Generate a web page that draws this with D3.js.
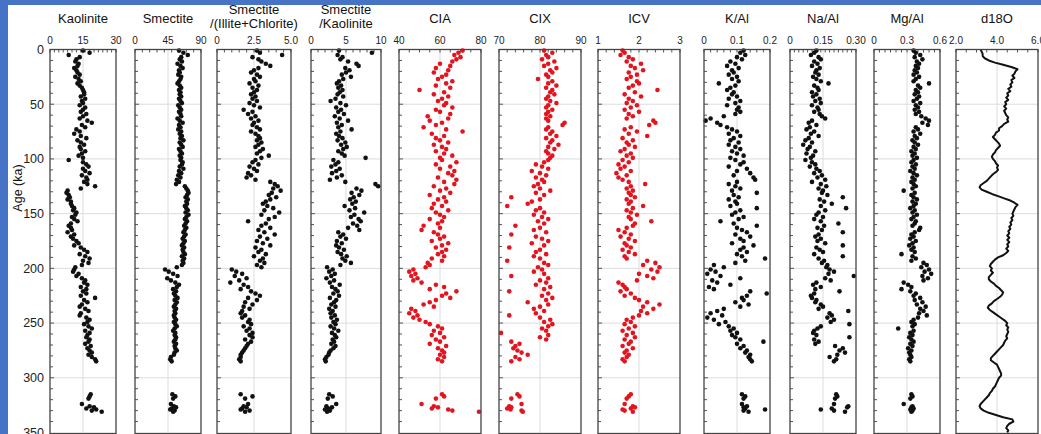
<!DOCTYPE html>
<html>
<head>
<meta charset="utf-8">
<script src="https://cdn.jsdelivr.net/npm/d3@7"></script>
<style>
  body { margin: 0; background: #fff; }
  svg { display: block; font-family: "Liberation Sans", Arial, sans-serif; }
</style>
</head>
<body>
<svg id="chart"></svg>
<script>
// sample ages (ka), shared by all scatter columns
var ages = [
  1,3,5,7,9,11,13,15,17,19,
  21,23,25,27,29,31,33,35,37,39,
  41,43,45,47,49,51,53,55,57,59,
  61,63,65,67,69,71,73,75,77,79,
  81,83,85,87,89,91,93,95,97,99,
  101,103,105,107,109,111,113,115,117,119,
  121,123,125,127,129,131,133,135,137,139,
  141,143,145,147,149,151,153,155,157,159,
  161,163,165,167,169,171,173,175,177,179,
  181,183,185,187,189,191,193,195,197,199,
  201,203,205,207,209,211,213,215,217,219,
  221,223,225,227,229,231,233,235,237,239,
  241,243,245,247,249,251,253,255,257,259,
  261,263,265,267,269,271,273,275,277,279,
  281,283,285,
  315,317,319,324,326,327,328,329,330,331
];

var kaolinite = [
  15,18,8.5,13.5,12,11.5,13,12.5,11,12,
  12.5,13.5,11.5,13,14,12.5,13.5,14.5,15,15.5,
  15.5,14,16,14.5,15,13.5,16,15,14,16.5,
  15,13.5,17,19,14.5,16,12,13.5,11,14,
  16.5,12.5,14,15.5,13.5,14,16,14.5,13,15,
  8.5,15,16.5,17.5,15,16,18,14.5,16.5,17,
  15.5,17,20.5,14,8,7.5,8.5,9,8,9.5,
  9.5,10,11,10.5,12,11.5,10,11,12.5,9.5,
  8.5,9.5,10,8,11,9.5,10.5,12,13,11,
  14,15.5,17,13.5,16,18,15,17.5,14.5,11.5,
  11,10.5,13,12,14.5,16,15.5,17,14,16.5,
  15,16.5,14,20.5,15.5,17,14.5,13.5,16,17.5,
  14,13.5,16.5,18,17,15.5,17.5,19,16,18,
  17,16.5,18,17.5,16,18.5,17,18,19,17.5,
  19,20.5,21,
  18.5,18,17.5,14.5,18,20,16.5,21,19,23.5
];

var smectite = [
  60,66,72,63,61,64,58,62,65,60,
  61,59,63,62,60,58,61,63,60,62,
  61,63,60,62,64,59,61,63,60,62,
  63,58,61,65,60,62,59,63,61,64,
  62,66,61,63,65,60,62,64,61,63,
  62,65,64,61,66,60,63,59,62,57,
  60,56,68,70,72,73,71,69,72,70,
  71,68,70,72,69,73,70,68,71,69,
  67,70,68,66,69,67,65,68,66,64,
  67,65,66,68,64,67,65,66,64,57,
  41,46,52,58,44,49,55,60,57,52,
  56,53,55,58,54,57,55,53,56,54,
  55,53,54,56,53,55,57,54,52,55,
  54,56,55,53,56,54,55,57,54,53,
  49,48,50,
  51,55,52,49,53,56,50,48,54,52
];

var smecIllChl = [
  2.7,2.9,4.4,2.4,2.8,3.0,3.3,3.6,2.8,2.5,
  2.3,2.7,2.9,2.5,2.6,2.2,2.8,2.4,2.7,2.5,
  2.3,2.6,2.4,2.7,2.2,2.5,2.9,1.8,2.4,2.1,
  2.6,2.3,2.8,2.5,2.4,2.7,2.9,2.3,2.6,2.8,
  2.9,2.7,3.0,2.8,2.6,3.1,2.9,2.7,3.5,3.0,
  2.6,2.4,2.8,2.2,2.5,2.7,2.1,2.3,2.0,2.6,
  3.6,3.9,4.1,3.8,4.3,3.7,3.5,4.0,3.6,3.3,
  3.1,3.4,3.8,3.2,4.2,3.0,3.9,3.5,2.1,3.3,
  3.0,3.6,2.8,3.2,3.9,2.9,3.4,2.7,3.1,3.6,
  2.6,3.0,2.8,3.3,2.5,3.1,2.9,3.2,2.7,3.0,
  1.0,1.3,1.7,1.2,2.0,1.5,0.9,1.8,2.1,1.6,
  2.3,2.6,2.9,2.1,2.7,1.9,2.4,1.8,2.2,1.7,
  1.6,1.9,1.7,2.2,2.1,2.3,1.8,2.2,2.0,2.4,
  2.2,2.4,1.9,2.3,2.1,2.0,1.9,1.8,1.7,1.6,
  1.6,1.5,1.6,
  1.6,2.4,1.9,2.1,1.8,2.0,1.7,1.6,2.2,1.9
];

var smecKaol = [
  4.0,8.7,3.8,4.5,4.2,5.3,6.5,6.8,4.9,5.5,
  5.0,4.4,5.7,4.6,4.0,3.7,4.3,3.9,4.5,4.1,
  3.8,4.6,3.5,2.8,4.2,5.0,3.6,4.3,3.9,4.7,
  3.4,4.1,5.3,3.7,4.4,3.9,5.8,4.2,3.6,4.0,
  4.5,3.8,4.9,4.3,5.1,4.6,3.9,4.4,4.8,7.8,
  3.2,3.9,3.5,2.9,4.1,3.6,3.0,4.4,3.7,2.7,
  4.9,9.2,9.6,6.5,7.2,5.8,6.9,6.1,5.6,6.4,
  5.9,4.8,6.3,5.5,7.6,6.2,5.7,6.8,7.1,6.0,
  6.6,5.3,6.9,3.9,4.6,4.2,5.0,3.7,4.4,3.6,
  4.0,4.7,3.8,4.3,5.1,4.5,4.9,5.7,4.2,2.3,
  3.1,2.6,3.4,2.9,2.2,3.3,2.7,4.1,3.0,3.5,
  3.8,3.2,4.0,2.7,3.6,3.3,2.9,3.5,2.6,3.1,
  2.8,3.4,2.9,3.7,3.2,3.5,2.8,3.3,3.9,3.0,
  3.4,3.6,3.1,3.3,2.9,3.5,3.2,2.8,2.6,2.5,
  2.2,2.0,2.1,
  2.6,3.1,2.4,3.6,2.2,3.0,2.5,2.0,2.7,2.3
];

var cia = [
  71,69,67,70,68,66,60,65,58,64,
  57,63,61,59,66,63,58,65,50,62,
  57,64,61,59,63,62,66,58,60,65,
  54,64,55,61,58,52,63,71,56,62,
  58,60,64,57,61,63,58,62,66,60,
  61,68,58,65,60,67,64,66,59,68,
  62,67,57,63,60,65,55,62,59,63,
  57,61,56,64,58,60,62,55,61,59,
  52,60,51,57,59,62,60,56,64,61,
  58,63,61,59,62,56,61,54,55,53,
  47,45,48,46,49,47,51,58,62,55,
  68,63,61,65,58,55,52,57,46,48,
  45,49,47,50,53,55,59,61,57,60,
  56,62,58,60,55,63,59,61,62,60,
  62,59,61,
  61,62,58,51,57,59,56,64,66,79
];

var cix = [
  81,83,81.5,82,80.5,83.5,82,81,84,82.5,
  83,81.5,82,79.5,83,82,84,81.5,83,82.5,
  83.5,82,81.5,82.5,84,82,81.5,83,82,81.5,
  82.5,81.5,82,86,85.5,82,81.5,83,82.5,84,
  81.5,83,82.5,84.5,82,83.5,81.5,82,83,82.5,
  82,81,79,80.5,82,78,80,81.5,79,80.5,
  81,79.5,78.5,80,82.5,79,81,73,80,78,
  77,72,80,79,81,78.5,80.5,82,79.5,81,
  74,80,78.5,81.5,73,79,80.5,82,78,81,
  72.5,80,79,81.5,78.5,80,72,81,82,79.5,
  80.5,78.5,81,73,82,80,81.5,79,82.5,81,
  72.5,82,80.5,83,81.5,77,82,80,78.5,81,
  79,72.5,80,82.5,81,83,82,80.5,81.5,70.5,
  82,80,81.5,73,75,74,73.5,74.5,75.5,77,
  74,75,73,
  74.5,75,73,75.5,72.5,73,72,72.8,75.5,75.8
];

var icv = [
  1.6,1.65,1.55,1.75,1.85,1.7,2.05,1.8,1.9,2.1,
  1.75,1.95,1.8,1.7,1.95,2.0,1.85,1.75,2.45,1.9,
  1.65,2.05,1.75,1.85,1.7,1.95,1.8,1.65,2.0,1.75,
  1.85,1.7,2.35,2.4,2.25,1.8,1.65,1.95,1.75,2.2,
  1.6,1.85,1.7,1.75,1.9,1.65,1.55,1.8,1.7,1.85,
  1.6,1.75,1.5,1.65,1.55,1.8,1.45,1.7,1.5,1.6,
  1.75,2.15,1.8,1.7,1.85,1.75,1.8,1.9,1.7,1.8,
  1.75,2.1,1.85,1.7,1.8,1.95,1.75,1.8,2.3,1.9,
  1.85,1.7,1.5,1.65,1.8,1.55,1.75,1.9,1.65,1.7,
  1.8,1.6,1.75,1.9,1.65,1.7,2.2,2.4,2.1,2.5,
  2.3,2.45,2.0,2.2,2.35,1.95,1.5,1.6,1.65,1.7,
  1.55,1.8,1.65,1.9,2.0,2.2,2.5,2.1,2.35,2.05,
  2.2,2.0,1.85,1.7,1.8,1.65,1.9,1.75,1.6,1.85,
  1.7,1.9,1.65,1.8,1.75,1.6,1.85,1.7,1.65,1.75,
  1.7,1.6,1.65,
  1.8,1.75,1.7,1.65,1.85,1.9,1.8,1.6,1.65,1.85
];

var kAl = [
  0.12,0.11,0.125,0.10,0.115,0.08,0.095,0.07,0.105,0.085,
  0.09,0.075,0.10,0.085,0.105,0.045,0.095,0.08,0.07,0.09,
  0.085,0.10,0.075,0.11,0.095,0.07,0.105,0.10,0.11,0.095,
  0.06,0.02,0.005,0.04,0.05,0.07,0.085,0.10,0.075,0.11,
  0.09,0.08,0.105,0.075,0.095,0.11,0.085,0.10,0.12,0.08,
  0.095,0.12,0.11,0.075,0.13,0.10,0.14,0.09,0.15,0.155,
  0.10,0.075,0.095,0.11,0.085,0.16,0.09,0.105,0.075,0.095,
  0.10,0.08,0.16,0.11,0.095,0.085,0.12,0.105,0.05,0.09,
  0.16,0.10,0.115,0.13,0.095,0.14,0.11,0.12,0.085,0.15,
  0.12,0.11,0.13,0.10,0.115,0.185,0.125,0.095,0.03,0.06,
  0.02,0.035,0.01,0.05,0.11,0.025,0.04,0.08,0.015,0.03,
  0.14,0.19,0.13,0.115,0.12,0.095,0.135,0.11,0.06,0.04,
  0.02,0.055,0.01,0.03,0.065,0.045,0.075,0.09,0.08,0.10,
  0.085,0.095,0.11,0.18,0.10,0.12,0.11,0.13,0.125,0.14,
  0.135,0.14,0.145,
  0.115,0.125,0.12,0.115,0.13,0.12,0.125,0.185,0.12,0.135
];

var naAl = [
  0.12,0.11,0.095,0.13,0.14,0.11,0.125,0.10,0.135,0.12,
  0.115,0.13,0.105,0.12,0.14,0.175,0.11,0.125,0.13,0.10,
  0.12,0.105,0.135,0.115,0.14,0.10,0.125,0.13,0.11,0.135,
  0.145,0.16,0.10,0.085,0.12,0.09,0.075,0.11,0.095,0.13,
  0.085,0.07,0.10,0.06,0.09,0.08,0.115,0.075,0.105,0.095,
  0.07,0.10,0.115,0.09,0.12,0.135,0.11,0.145,0.125,0.16,
  0.10,0.14,0.165,0.13,0.15,0.145,0.17,0.24,0.135,0.155,
  0.19,0.14,0.255,0.16,0.13,0.12,0.15,0.11,0.14,0.22,
  0.155,0.125,0.145,0.24,0.13,0.115,0.14,0.125,0.16,0.24,
  0.12,0.135,0.15,0.11,0.24,0.13,0.155,0.145,0.17,0.165,
  0.18,0.20,0.175,0.29,0.16,0.185,0.12,0.105,0.14,0.115,
  0.225,0.11,0.095,0.10,0.12,0.115,0.14,0.15,0.13,0.265,
  0.18,0.19,0.17,0.20,0.185,0.27,0.14,0.125,0.11,0.105,
  0.12,0.27,0.11,0.13,0.115,0.205,0.24,0.225,0.25,0.215,
  0.18,0.21,0.20,
  0.21,0.215,0.205,0.20,0.265,0.26,0.19,0.14,0.20,0.25
];

var mgAl = [
  0.36,0.38,0.42,0.37,0.44,0.39,0.41,0.38,0.40,0.37,
  0.39,0.36,0.41,0.38,0.36,0.50,0.40,0.42,0.38,0.40,
  0.37,0.41,0.39,0.36,0.42,0.38,0.40,0.37,0.41,0.38,
  0.43,0.47,0.50,0.44,0.49,0.38,0.40,0.36,0.42,0.37,
  0.39,0.35,0.37,0.40,0.36,0.38,0.34,0.37,0.35,0.39,
  0.36,0.34,0.38,0.35,0.37,0.33,0.36,0.39,0.35,0.37,
  0.34,0.36,0.38,0.35,0.27,0.37,0.34,0.36,0.39,0.35,
  0.38,0.36,0.33,0.37,0.35,0.39,0.36,0.34,0.38,0.37,
  0.35,0.42,0.41,0.37,0.34,0.36,0.33,0.38,0.35,0.32,
  0.36,0.34,0.37,0.25,0.35,0.38,0.34,0.45,0.48,0.43,
  0.50,0.46,0.52,0.44,0.49,0.45,0.27,0.31,0.34,0.25,
  0.33,0.38,0.36,0.42,0.37,0.44,0.39,0.47,0.42,0.45,
  0.41,0.48,0.40,0.36,0.34,0.37,0.35,0.22,0.36,0.33,
  0.35,0.32,0.34,0.36,0.33,0.35,0.31,0.34,0.32,0.33,
  0.34,0.32,0.33,
  0.34,0.35,0.33,0.27,0.35,0.34,0.36,0.33,0.35,0.34
];

// d18O record
var d18oAge = [
  0,2,4,6,8,10,12,14,16,18,
  20,22,24,26,28,30,32,34,36,38,
  40,42,44,46,48,50,52,54,56,58,
  60,62,64,66,68,70,72,74,76,78,
  80,82,84,86,88,90,92,94,96,98,
  100,102,104,106,108,110,112,114,116,118,
  120,122,124,126,128,130,132,134,136,138,
  140,142,144,146,148,150,152,154,156,158,
  160,162,164,166,168,170,172,174,176,178,
  180,182,184,186,188,190,192,194,196,198,
  200,202,204,206,208,210,212,214,216,218,
  220,222,224,226,228,230,232,234,236,238,
  240,242,244,246,248,250,252,254,256,258,
  260,262,264,266,268,270,272,274,276,278,
  280,282,284,286,288,290,292,294,296,298,
  300,302,304,306,308,310,312,314,316,318,
  320,322,324,326,328,330,332,334,336,338,
  340,342,344,346,348,350
];
var d18oVal = [
  3.2,3.25,3.3,3.3,3.4,3.6,3.9,4.3,4.7,5.0,
  4.9,4.85,4.75,4.85,4.7,4.75,4.65,4.7,4.55,4.65,
  4.5,4.55,4.45,4.55,4.4,4.45,4.35,4.45,4.35,4.4,
  4.45,4.55,4.5,4.55,4.35,4.25,4.1,4.1,3.95,3.9,
  3.8,3.9,4.0,4.1,4.15,4.05,3.95,3.9,3.8,3.75,
  3.8,3.9,3.95,4.05,4.0,4.05,3.95,3.8,3.7,3.6,
  3.5,3.35,3.2,3.15,3.25,3.5,3.75,4.05,4.35,4.65,
  4.85,5.0,4.9,4.85,4.8,4.75,4.8,4.7,4.75,4.65,
  4.7,4.6,4.65,4.55,4.6,4.5,4.6,4.5,4.6,4.5,
  4.55,4.45,4.55,4.45,4.3,4.05,3.9,3.8,3.7,3.65,
  3.75,3.7,3.8,3.7,3.6,3.6,3.7,3.85,3.95,4.1,
  4.2,4.3,4.25,4.15,4.0,3.85,3.75,3.6,3.55,3.65,
  3.8,3.95,4.1,4.25,4.4,4.5,4.45,4.55,4.5,4.55,
  4.5,4.45,4.5,4.4,4.35,4.3,4.2,4.1,4.0,3.9,
  3.8,3.7,3.7,3.85,4.0,4.05,4.1,4.15,4.2,4.2,
  4.1,4.05,4.0,3.95,3.9,3.8,3.75,3.65,3.6,3.5,
  3.4,3.3,3.2,3.15,3.2,3.35,3.6,3.95,4.3,4.75,
  4.8,4.6,4.5,4.45,4.55,4.5
];

var titles = [["Kaolinite"], ["Smectite"], ["Smectite", "/(Illite+Chlorite)"], ["Smectite", "/Kaolinite"],
  ["CIA"], ["CIX"], ["ICV"], ["K/Al"], ["Na/Al"], ["Mg/Al"], ["d18O"]];
var domains = [[0, 30], [0, 90], [0, 5], [0, 10], [40, 80], [70, 90], [1, 3], [0, 0.2], [0, 0.3], [0, 0.6], [2, 6]];
var tickLabels = [["0", "15", "30"], ["0", "45", "90"], ["0", "2.5", "5.0"], ["0", "5", "10"],
  ["40", "60", "80"], ["70", "80", "90"], ["1", "2", "3"], ["0", "0.1", "0.2"],
  ["0", "0.15", "0.30"], ["0", "0.3", "0.6"], ["2.0", "4.0", "6.0"]];
var series = [kaolinite, smectite, smecIllChl, smecKaol, cia, cix, icv, kAl, naAl, mgAl, null];
var pointColors = ["#111", "#111", "#111", "#111", "#e3141e", "#e3141e", "#e3141e", "#111", "#111", "#111", null];
var ageTicks = [0, 50, 100, 150, 200, 250, 300, 350];

// layout
var width = 1041, height = 434;
var panelX = [[50, 116], [135, 201], [217, 291], [311, 381], [399, 481], [499, 581],
  [598, 680], [704, 770], [790, 856], [874, 940], [956, 1038]];

var svg = d3.select("#chart").attr("width", width).attr("height", height);
svg.append("rect").attr("width", width).attr("height", height).attr("fill", "#fff");

var y = d3.scaleLinear().domain([0, 350]).range([49.5, 432.5]);

panelX.forEach(function(px, i) {
  var x = d3.scaleLinear().domain(domains[i]).range(px);
  var g = svg.append("g");
  var mid = (domains[i][0] + domains[i][1]) / 2;

  // grid
  g.selectAll("line.hgrid").data(ageTicks.slice(1, 7)).enter().append("line")
    .attr("x1", px[0]).attr("x2", px[1])
    .attr("y1", d => y(d)).attr("y2", d => y(d))
    .attr("stroke", "#dcdcdc").attr("stroke-width", 1);
  g.append("line")
    .attr("x1", x(mid)).attr("x2", x(mid))
    .attr("y1", y(0)).attr("y2", y(350))
    .attr("stroke", "#dcdcdc").attr("stroke-width", 1);

  // left minor ticks every 10 ka
  g.selectAll("line.lt").data(d3.range(10, 350, 10)).enter().append("line")
    .attr("x1", px[0]).attr("x2", d => px[0] + (d % 50 === 0 ? 4 : 3))
    .attr("y1", d => y(d)).attr("y2", d => y(d))
    .attr("stroke", "#555").attr("stroke-width", 1);

  // top ticks
  g.selectAll("line.tt").data(x.ticks(10)).enter().append("line")
    .attr("x1", d => x(d)).attr("x2", d => x(d))
    .attr("y1", y(0)).attr("y2", y(0) + 3)
    .attr("stroke", "#555").attr("stroke-width", 1);

  // top tick labels
  var tv = [domains[i][0], mid, domains[i][1]];
  g.selectAll("text.tl").data(tv).enter().append("text")
    .attr("x", d => x(d)).attr("y", 44)
    .attr("text-anchor", "middle")
    .attr("font-size", 10).attr("fill", "#222")
    .text((d, k) => tickLabels[i][k]);

  // title
  var lines = titles[i];
  var baseY = lines.length === 1 ? [22.5] : [13.5, 27.5];
  lines.forEach(function(t, k) {
    g.append("text")
      .attr("x", (px[0] + px[1]) / 2).attr("y", baseY[k])
      .attr("text-anchor", "middle")
      .attr("font-size", 13).attr("fill", "#111")
      .text(t);
  });

  // marks
  if (series[i]) {
    g.selectAll("circle").data(series[i]).enter().append("circle")
      .attr("cx", d => x(d))
      .attr("cy", (d, k) => y(ages[k]))
      .attr("r", 2.3)
      .attr("fill", pointColors[i]);
  } else {
    var line = d3.line()
      .x((d, k) => x(d))
      .y((d, k) => y(d18oAge[k]));
    g.append("path").datum(d18oVal)
      .attr("d", line)
      .attr("fill", "none")
      .attr("stroke", "#111")
      .attr("stroke-width", 2)
      .attr("stroke-linejoin", "round");
  }

  // frame
  g.append("rect")
    .attr("x", px[0]).attr("y", y(0))
    .attr("width", px[1] - px[0]).attr("height", y(350) - y(0) + 1)
    .attr("fill", "none").attr("stroke", "#444").attr("stroke-width", 1.3);
});

// age axis labels
svg.selectAll("text.age").data(ageTicks).enter().append("text")
  .attr("x", 44).attr("y", d => y(d))
  .attr("dy", "0.35em")
  .attr("text-anchor", "end")
  .attr("font-size", 12.5).attr("fill", "#222")
  .text(d => d);

svg.append("text")
  .attr("transform", "translate(22,188) rotate(-90)")
  .attr("text-anchor", "middle")
  .attr("font-size", 12.5).attr("fill", "#111")
  .text("Age (ka)");

// blue slide border
svg.append("rect").attr("x", 0).attr("y", 0).attr("width", width).attr("height", 5).attr("fill", "#4673c5");
svg.append("rect").attr("x", 0).attr("y", 0).attr("width", 8).attr("height", height).attr("fill", "#4673c5");
</script>
</body>
</html>
